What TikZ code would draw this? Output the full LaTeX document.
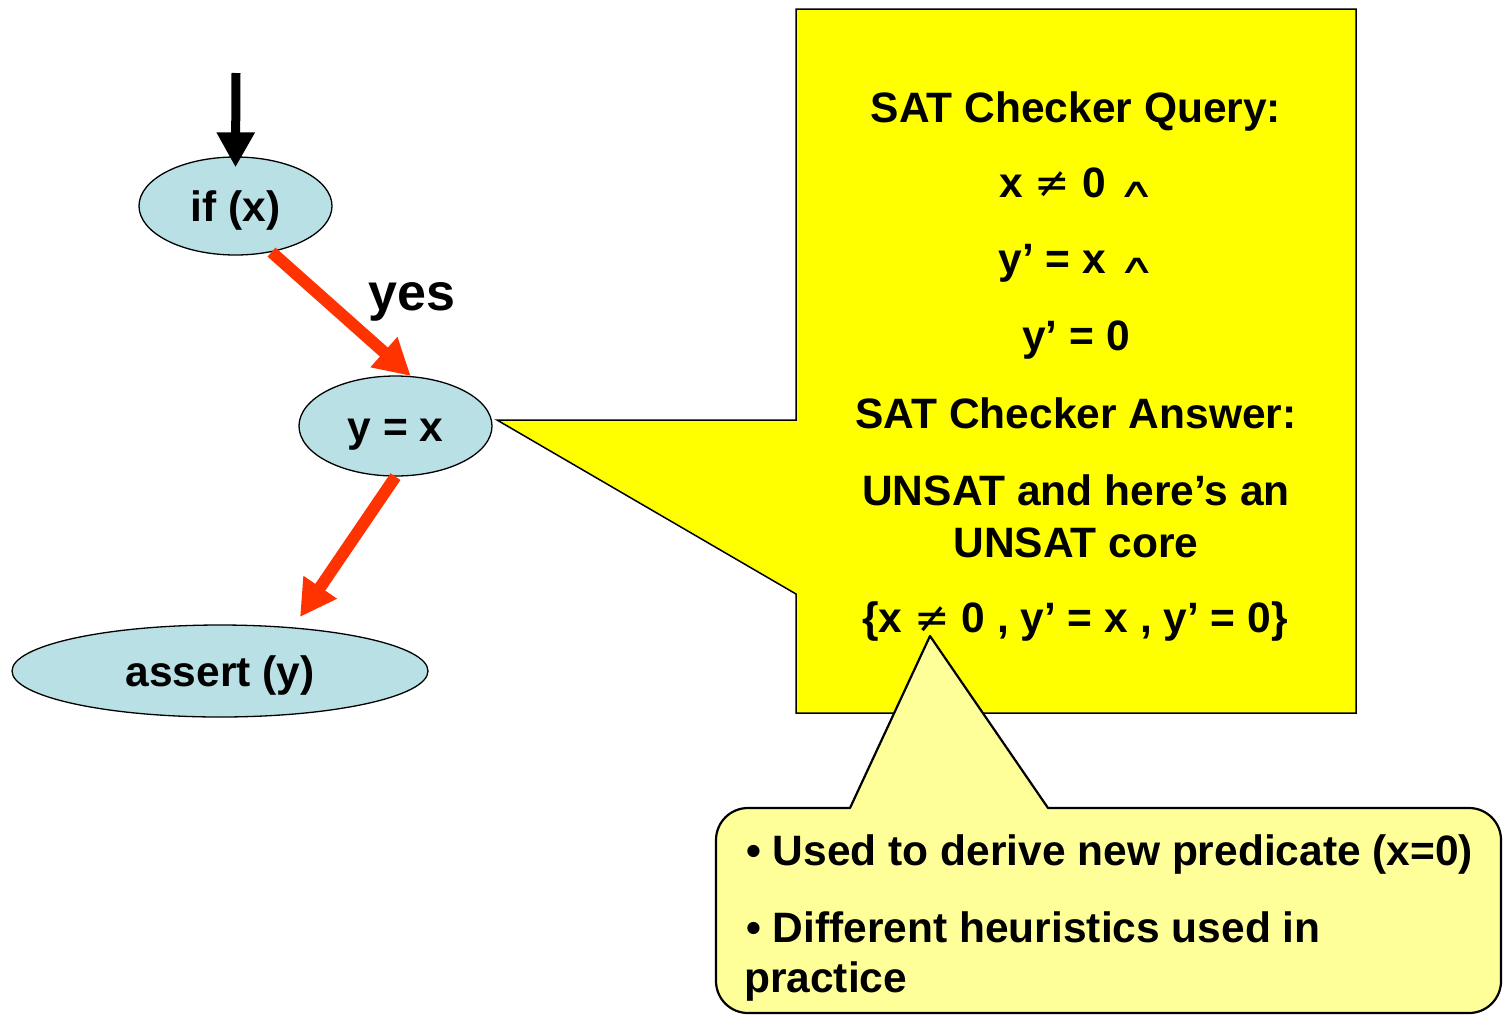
\documentclass[tikz,border=0pt]{standalone}
\usepackage{fontspec}
\usepackage{graphicx}
\setmainfont{Liberation Sans}
\newfontfamily\symfont{DejaVu Sans}
\usetikzlibrary{shapes.geometric,arrows.meta}
\definecolor{nodeblue}{RGB}{185,224,228}
\definecolor{flowred}{RGB}{255,51,0}
\definecolor{noteyellow}{RGB}{255,255,0}
\definecolor{tipyellow}{RGB}{255,255,153}
\newcommand{\neqsym}{{\symfont\mdseries ≠}}
\newcommand{\andsym}{{\symfont\mdseries\scalebox{1.2}[0.62]{∧}}}
\begin{document}
\begin{tikzpicture}[x=1pt,y=-1pt,
  every node/.style={font=\bfseries\fontsize{42.5}{50}\selectfont, inner sep=0pt},
  stmt/.style={ellipse, draw=black, line width=1.3pt, fill=nodeblue,
               text height=31pt, text depth=0pt},
  flow/.style={draw=flowred, line width=12pt, -{Triangle[length=36pt,width=38pt]}},
  entry/.style={draw=black, line width=9pt, -{Triangle[length=35pt,width=36pt]}},
  qline/.style={anchor=base},
  bline/.style={anchor=base west},
]
\useasboundingbox (0,0) rectangle (1503,1015);

% control-flow statements
\node[stmt, minimum width=193pt, minimum height=98pt]  (ifx)    at (235.5,206) {if (x)};
\node[stmt, minimum width=193pt, minimum height=100pt] (yx)     at (395.5,426) {y = x};
\node[stmt, minimum width=416pt, minimum height=92pt]  (assert) at (220,671)   {assert (y)};

% entry edge and taken path
\coordinate (entrytop) at (236,73);
\draw[entry] (entrytop) -- ([yshift=-11pt]ifx.north);
\draw[flow] (ifx.-52) -- (yx.73.5);
\draw[flow] (yx.south) -- ([xshift=80pt,yshift=54pt]assert.center);
\node[font=\bfseries\fontsize{52}{60}\selectfont, anchor=base] (yes) at (412,310) {yes};

% SAT query callout
\draw[fill=noteyellow, line width=1.5pt]
  (796,9) -- (1356,9) -- (1356,713) -- (796,713) -- (796,594)
  -- (497,420) -- (796,420) -- cycle;
\node[qline] (qhead) at (1076,122) {SAT Checker Query:};
\node[qline] (q1)    at (1077,197) {x \neqsym\ 0 \andsym};
\node[qline] (q2)    at (1077,273) {y’ = x \andsym};
\node[qline] (q3)    at (1076,350) {y’ = 0};
\node[qline] (ahead) at (1076,428) {SAT Checker Answer:};
\node[qline] (a1)    at (1076,505) {UNSAT and here’s an};
\node[qline] (a2)    at (1076,557) {UNSAT core};
\node[qline] (core)  at (1075,632) {\{x \neqsym\ 0 , y’ = x , y’ = 0\}};

% remark callout pointing at the core
\draw[fill=tipyellow, line width=2.2pt, line join=round]
  (930,636) -- (1048,808) -- (1469,808)
  .. controls (1486.7,808) and (1501,822.3) .. (1501,840)
  -- (1501,981)
  .. controls (1501,998.7) and (1486.7,1013) .. (1469,1013)
  -- (748,1013)
  .. controls (730.3,1013) and (716,998.7) .. (716,981)
  -- (716,840)
  .. controls (716,822.3) and (730.3,808) .. (748,808)
  -- (850,808) -- cycle;
\node[bline] (r1) at (746,865) {• Used to derive new predicate (x=0)};
\node[bline] (r2) at (746,942) {• Different heuristics used in};
\node[bline] (r3) at (744,992) {practice};
\end{tikzpicture}
\end{document}
